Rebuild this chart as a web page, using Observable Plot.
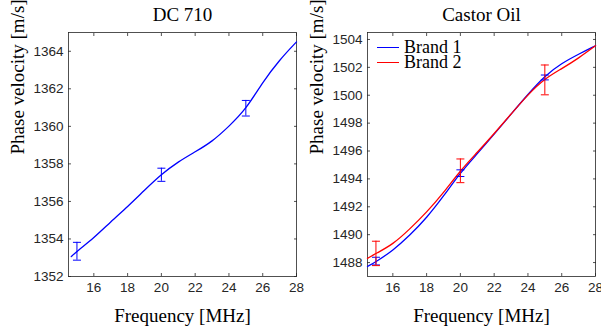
<!DOCTYPE html>
<html>
<head>
<meta charset="utf-8">
<script src="https://cdn.jsdelivr.net/npm/d3@7"></script>
<script src="https://cdn.jsdelivr.net/npm/@observablehq/plot@0.6"></script>
<style>
  body { margin: 0; background: white; }
  #wrap { position: relative; width: 601px; height: 332px; overflow: hidden; background: white; }
  .panel { position: absolute; top: 0; }
  .panel svg { background: transparent !important; }
  #legend { position: absolute; left: 377px; top: 40px; font-family: "Liberation Serif", serif; font-size: 18px; line-height: 15px; color: #000; }
  #legend .row { display: flex; align-items: center; height: 15px; line-height: 15px; }
  #legend .sw { width: 22px; height: 0; border-top: 1.6px solid; margin-right: 5px; }
</style>
</head>
<body>
<div id="wrap"></div>
<script>
// ---- Data ----
const dcFreq = [14.66, 15, 16, 17, 18, 19, 20, 21, 22, 23, 24, 25, 26, 27, 28];
const dcVel  = [1353.06, 1353.35, 1354.05, 1354.92, 1355.72, 1356.6, 1357.45, 1358.12, 1358.64, 1359.18, 1360.0, 1360.9, 1362.36, 1363.55, 1364.5];
const dcErrFreq = [15, 20, 25];
const dcErrLow  = [1352.87, 1357.07, 1360.55];
const dcErrHigh = [1353.82, 1357.77, 1361.38];

const coFreq = [14.5, 15, 16, 17, 18, 19, 20, 21, 22, 23, 24, 25, 26, 27, 28];
const brand1 = [1487.72, 1488.05, 1488.86, 1489.95, 1491.2, 1492.75, 1494.45, 1495.8, 1497.2, 1498.65, 1500.07, 1501.4, 1502.3, 1502.95, 1503.55];
const brand2 = [1488.3, 1488.65, 1489.3, 1490.4, 1491.6, 1493.0, 1494.6, 1495.9, 1497.25, 1498.65, 1500.05, 1501.2, 1501.9, 1502.66, 1503.55];
const coErrFreq = [15, 20, 25];
const b1ErrLow  = [1487.83, 1494.17, 1501.1];
const b1ErrHigh = [1488.38, 1494.65, 1501.45];
const b2ErrLow  = [1487.78, 1493.73, 1500.03];
const b2ErrHigh = [1489.53, 1495.43, 1502.17];

const xTicks = [16, 18, 20, 22, 24, 26, 28];
const dcTicks = [1352, 1354, 1356, 1358, 1360, 1362, 1364];
const coTicks = [1488, 1490, 1492, 1494, 1496, 1498, 1500, 1502, 1504];

const titles = ["DC 710", "Castor Oil"];
const xLabel = "Frequency [MHz]";
const yLabel = "Phase velocity [m/s]";
const seriesNames = ["Brand 1", "Brand 2"];
const colors = ["#0000ff", "#ff0000"];

// ---- helpers ----
const serif = "Liberation Serif";
const axisColor = "#262626";
const capSymbol = { draw(ctx) { ctx.moveTo(-4, 0); ctx.lineTo(4, 0); } };
const fmt = d => String(d);

function errMarks(xs, lo, hi, color) {
  const rows = xs.map((x, i) => ({x, lo: lo[i], hi: hi[i]}));
  return [
    Plot.ruleX(rows, {x: "x", y1: "lo", y2: "hi", stroke: color, strokeWidth: 1}),
    Plot.dot(rows, {x: "x", y: "lo", symbol: capSymbol, stroke: color, fill: "none", strokeWidth: 1}),
    Plot.dot(rows, {x: "x", y: "hi", symbol: capSymbol, stroke: color, fill: "none", strokeWidth: 1})
  ];
}

function frameAxes(yTicks) {
  return [
    Plot.frame({stroke: axisColor, strokeWidth: 0.8}),
    // tick labels
    Plot.axisX(xTicks, {anchor: "bottom", tickSize: 0, tickPadding: 6, fill: axisColor, label: null, tickFormat: fmt}),
    Plot.axisY(yTicks, {anchor: "left", tickSize: 0, tickPadding: 5, fill: axisColor, label: null, tickFormat: fmt}),
    // inward ticks on all four sides
    Plot.axisX(xTicks, {anchor: "bottom", tickSize: 3, dy: -3, fill: "none", stroke: axisColor, strokeWidth: 0.8, label: null}),
    Plot.axisX(xTicks, {anchor: "top", tickSize: 3, dy: 3, fill: "none", stroke: axisColor, strokeWidth: 0.8, label: null}),
    Plot.axisY(yTicks, {anchor: "left", tickSize: 3, dx: 3, fill: "none", stroke: axisColor, strokeWidth: 0.8, label: null}),
    Plot.axisY(yTicks, {anchor: "right", tickSize: 3, dx: -3, fill: "none", stroke: axisColor, strokeWidth: 0.8, label: null})
  ];
}

function labels(title) {
  return [
    Plot.text([title], {frameAnchor: "top", dy: -18, text: d => d, fontFamily: serif, fontSize: 19, fill: "black", lineAnchor: "middle"}),
    Plot.text([xLabel], {frameAnchor: "bottom", dy: 39, text: d => d, fontFamily: serif, fontSize: 19, fill: "black", lineAnchor: "middle"}),
    Plot.text([yLabel], {frameAnchor: "left", dx: -51, rotate: -90, text: d => d, fontFamily: serif, fontSize: 19, fill: "black", lineAnchor: "middle"})
  ];
}

const common = {
  height: 332,
  marginTop: 32,
  marginBottom: 56,
  style: {fontFamily: "Liberation Sans", fontSize: "13.5px", background: "transparent", overflow: "visible"},
  x: {domain: [14.5, 28], axis: null},
};

// Left panel
const left = Plot.plot({
  ...common,
  width: 300,
  marginLeft: 68,
  marginRight: 4,
  y: {domain: [1352, 1365], axis: null},
  marks: [
    ...frameAxes(dcTicks),
    Plot.line(dcFreq.map((f, i) => ({f, v: dcVel[i]})), {x: "f", y: "v", stroke: colors[0], strokeWidth: 1.3, curve: "basis"}),
    ...errMarks(dcErrFreq, dcErrLow, dcErrHigh, colors[0]),
    ...labels(titles[0])
  ]
});

// Right panel
const right = Plot.plot({
  ...common,
  width: 301,
  marginLeft: 67,
  marginRight: 6,
  y: {domain: [1487, 1504.5], axis: null},
  marks: [
    ...frameAxes(coTicks),
    Plot.line(coFreq.map((f, i) => ({f, v: brand1[i]})), {x: "f", y: "v", stroke: colors[0], strokeWidth: 1.3, curve: "basis"}),
    Plot.line(coFreq.map((f, i) => ({f, v: brand2[i]})), {x: "f", y: "v", stroke: colors[1], strokeWidth: 1.3, curve: "basis"}),
    ...errMarks(coErrFreq, b1ErrLow, b1ErrHigh, colors[0]),
    ...errMarks(coErrFreq, b2ErrLow, b2ErrHigh, colors[1]),
    ...labels(titles[1])
  ]
});

const wrap = document.getElementById("wrap");
const lp = document.createElement("div"); lp.className = "panel"; lp.style.left = "0px"; lp.appendChild(left);
const rp = document.createElement("div"); rp.className = "panel"; rp.style.left = "300px"; rp.appendChild(right);
wrap.appendChild(lp); wrap.appendChild(rp);

// Legend
const legend = document.createElement("div");
legend.id = "legend";
seriesNames.forEach((name, i) => {
  const row = document.createElement("div");
  row.className = "row";
  const sw = document.createElement("span");
  sw.className = "sw";
  sw.style.borderTopColor = colors[i];
  const t = document.createElement("span");
  t.textContent = name;
  row.appendChild(sw); row.appendChild(t);
  legend.appendChild(row);
});
wrap.appendChild(legend);
</script>
</body>
</html>
